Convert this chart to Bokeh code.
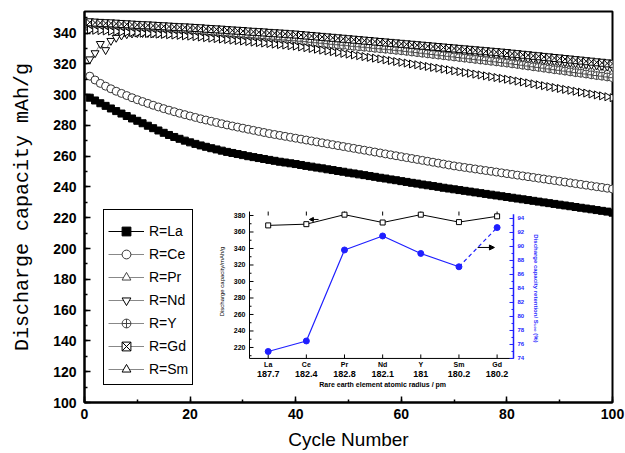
import numpy as np
from bokeh.plotting import figure
from bokeh.models import Range1d, SingleIntervalTicker, Legend, LegendItem, Arrow, NormalHead
from bokeh.core.properties import value
from bokeh.embed import file_html
from bokeh.resources import INLINE

# ---------------- main chart data ----------------
cycles = list(range(1, 101))

cap_La = [298, 296.2, 294.4, 292.7, 291, 289.3, 287.7, 286.1, 284.5, 283,
          281.4, 279.8, 278.2, 276.7, 275.2, 273.8, 272.5, 271.3, 270.1, 269,
          268, 267, 266.1, 265.2, 264.4, 263.6, 262.8, 262.1, 261.4, 260.7,
          260, 259.4, 258.8, 258.2, 257.6, 257, 256.4, 255.9, 255.4, 254.9,
          254.3, 253.7, 253.2, 252.6, 252.1, 251.5, 251, 250.4, 249.9, 249.3,
          248.8, 248.2, 247.7, 247.1, 246.6, 246, 245.5, 244.9, 244.4, 243.8,
          243.3, 242.7, 242.2, 241.6, 241.1, 240.6, 240.1, 239.5, 239, 238.5,
          238, 237.5, 237, 236.5, 236, 235.5, 235, 234.5, 234, 233.5,
          233, 232.5, 232, 231.5, 231, 230.5, 230, 229.5, 229, 228.5,
          228, 227.5, 227, 226.5, 226, 225.5, 225, 224.5, 224, 223.3]

cap_Ce = [312, 309.5, 307.3, 305.5, 303.8, 302.2, 300.8, 299.4, 298, 296.7,
          295.5, 294.3, 293.1, 292, 290.9, 289.9, 288.9, 287.9, 287, 286.1,
          285.2, 284.3, 283.5, 282.7, 281.9, 281.1, 280.3, 279.6, 278.9, 278.2,
          277.5, 276.8, 276.1, 275.4, 274.7, 274.1, 273.5, 272.9, 272.3, 271.7,
          271.1, 270.5, 269.9, 269.3, 268.7, 268.1, 267.5, 266.9, 266.3, 265.7,
          265.1, 264.5, 263.9, 263.3, 262.7, 262.1, 261.5, 260.9, 260.3, 259.7,
          259.1, 258.5, 257.9, 257.3, 256.7, 256.1, 255.5, 254.9, 254.3, 253.7,
          253.2, 252.7, 252.2, 251.7, 251.2, 250.7, 250.2, 249.7, 249.2, 248.7,
          248.2, 247.7, 247.2, 246.7, 246.2, 245.7, 245.2, 244.7, 244.2, 243.7,
          243.2, 242.7, 242.2, 241.7, 241.2, 240.7, 240.2, 239.7, 239.2, 238.7]

cap_Pr = [345, 344.8, 344.6, 344.5, 344.3, 344.1, 343.9, 343.7, 343.5, 343.3,
          343.1, 343, 342.8, 342.6, 342.4, 342.2, 342, 341.8, 341.7, 341.5,
          341.2, 341, 340.7, 340.5, 340.2, 340, 339.7, 339.5, 339.2, 339,
          338.7, 338.5, 338.2, 338, 337.7, 337.5, 337.2, 337, 336.7, 336.5,
          336.2, 335.9, 335.6, 335.3, 335, 334.7, 334.4, 334.1, 333.8, 333.5,
          333.2, 332.9, 332.6, 332.3, 332, 331.7, 331.4, 331.1, 330.8, 330.5,
          330.1, 329.8, 329.4, 329, 328.6, 328.3, 327.9, 327.5, 327.1, 326.8,
          326.4, 326, 325.6, 325.3, 324.9, 324.5, 324.1, 323.8, 323.4, 323,
          322.5, 322.1, 321.6, 321.2, 320.7, 320.3, 319.8, 319.4, 318.9, 318.5,
          318, 317.6, 317.1, 316.7, 316.2, 315.8, 315.3, 314.9, 314.4, 314]

cap_Nd = [323, 327, 333, 329, 335, 337, 338.5, 339.3, 339.8, 340,
          340.1, 340.1, 340, 340, 339.9, 339.9, 339.8, 339.7, 339.6, 339.5,
          339.3, 339.1, 338.9, 338.7, 338.5, 338.3, 338.1, 337.9, 337.7, 337.5,
          337.3, 337.1, 336.9, 336.7, 336.5, 336.3, 336.1, 335.9, 335.7, 335.5,
          335.3, 335.1, 334.8, 334.6, 334.4, 334.1, 333.9, 333.7, 333.4, 333.2,
          333, 332.7, 332.5, 332.3, 332, 331.8, 331.6, 331.4, 331.2, 331,
          330.7, 330.4, 330.1, 329.8, 329.5, 329.2, 328.9, 328.6, 328.3, 328,
          327.7, 327.4, 327.1, 326.8, 326.5, 326.2, 325.9, 325.6, 325.3, 325,
          324.6, 324.3, 323.9, 323.6, 323.2, 322.9, 322.5, 322.2, 321.8, 321.5,
          321.1, 320.8, 320.4, 320.1, 319.7, 319.4, 319, 318.7, 318.3, 318]

cap_Y = [343.5, 343.3, 343.1, 343, 342.8, 342.6, 342.4, 342.2, 342, 341.8,
         341.6, 341.5, 341.3, 341.1, 340.9, 340.7, 340.5, 340.3, 340.2, 340,
         339.7, 339.5, 339.2, 339, 338.7, 338.5, 338.2, 338, 337.7, 337.5,
         337.2, 337, 336.7, 336.5, 336.2, 336, 335.7, 335.5, 335.2, 335,
         334.7, 334.4, 334, 333.7, 333.4, 333.1, 332.7, 332.4, 332.1, 331.8,
         331.4, 331.1, 330.8, 330.5, 330.1, 329.8, 329.5, 329.2, 328.8, 328.5,
         328.1, 327.7, 327.3, 326.9, 326.5, 326.1, 325.7, 325.3, 324.9, 324.5,
         324.1, 323.7, 323.3, 322.9, 322.5, 322.1, 321.7, 321.3, 320.9, 320.5,
         320, 319.6, 319.1, 318.6, 318.1, 317.7, 317.2, 316.7, 316.2, 315.8,
         315.3, 314.8, 314.3, 313.9, 313.4, 312.9, 312.4, 312, 311.5, 311]

cap_Gd = [347, 346.8, 346.6, 346.4, 346.3, 346.1, 345.9, 345.7, 345.5, 345.3,
          345.1, 345, 344.8, 344.6, 344.4, 344.2, 344, 343.8, 343.7, 343.5,
          343.3, 343.1, 342.8, 342.6, 342.4, 342.2, 341.9, 341.7, 341.5, 341.3,
          341, 340.8, 340.6, 340.4, 340.1, 339.9, 339.7, 339.5, 339.2, 339,
          338.7, 338.4, 338.1, 337.8, 337.5, 337.2, 336.9, 336.6, 336.3, 336,
          335.7, 335.4, 335.1, 334.8, 334.5, 334.2, 333.9, 333.6, 333.3, 333,
          332.7, 332.4, 332.1, 331.8, 331.5, 331.2, 330.9, 330.6, 330.3, 330,
          329.7, 329.4, 329.1, 328.8, 328.5, 328.2, 327.9, 327.6, 327.3, 327,
          326.6, 326.3, 325.9, 325.6, 325.2, 324.9, 324.5, 324.2, 323.8, 323.5,
          323.1, 322.8, 322.4, 322.1, 321.7, 321.4, 321, 320.7, 320.3, 320]

cap_Sm = [342, 341.8, 341.6, 341.4, 341.2, 341, 340.7, 340.5, 340.3, 340.1,
          339.9, 339.7, 339.5, 339.3, 339.1, 338.9, 338.7, 338.5, 338.2, 338,
          337.7, 337.4, 337, 336.7, 336.4, 336.1, 335.8, 335.4, 335.1, 334.8,
          334.5, 334.1, 333.8, 333.5, 333.2, 332.8, 332.5, 332.2, 331.8, 331.5,
          331, 330.5, 330, 329.5, 328.9, 328.4, 327.9, 327.4, 326.8, 326.3,
          325.8, 325.3, 324.7, 324.2, 323.7, 323.2, 322.6, 322.1, 321.5, 321,
          320.5, 319.9, 319.4, 318.8, 318.3, 317.7, 317.2, 316.6, 316.1, 315.5,
          315, 314.4, 313.9, 313.3, 312.8, 312.2, 311.7, 311.1, 310.6, 310,
          309.4, 308.8, 308.2, 307.6, 307, 306.4, 305.8, 305.2, 304.6, 304,
          303.4, 302.8, 302.2, 301.6, 301, 300.4, 299.8, 299.2, 298.6, 298]

# ---------------- inset data ----------------
inset_elements = ["La", "Ce", "Pr", "Nd", "Y", "Sm", "Gd"]
inset_radius = ["187.7", "182.4", "182.8", "182.1", "181", "180.2", "180.2"]
inset_capacity = [368, 369.5, 381, 371.5, 381, 372, 379]
inset_retention = [75.0, 76.5, 89.5, 91.5, 89.0, 87.1, 92.7]
inset_cap_ticks = [220, 240, 260, 280, 300, 320, 340, 360, 380]
inset_cap_minor = [210, 230, 250, 270, 290, 310, 330, 350, 370]
inset_ret_ticks = [74, 76, 78, 80, 82, 84, 86, 88, 90, 92, 94]
inset_ret_minor = [75, 77, 79, 81, 83, 85, 87, 89, 91, 93]
inset_pos = list(range(len(inset_elements)))

FONT = value("Liberation Sans")
BLUE = "#1f1fff"

p = figure(width=625, height=453, x_range=Range1d(0, 100), y_range=Range1d(100, 354),
           output_backend="svg", toolbar_location=None,
           min_border_left=84, min_border_right=13, min_border_top=11, min_border_bottom=51)
p.extra_x_ranges = {"ix": Range1d(-4.815, 9.025)}
p.extra_y_ranges = {"iy": Range1d(153.3, 627.3), "ir": Range1d(67.71, 123.57)}

p.grid.visible = False
p.outline_line_color = "black"
p.outline_line_width = 2
p.outline_line_alpha = 1

p.xaxis.ticker = SingleIntervalTicker(interval=20, num_minor_ticks=2)
p.yaxis.ticker = SingleIntervalTicker(interval=20, num_minor_ticks=2)
for ax in (p.xaxis[0], p.yaxis[0]):
    ax.axis_line_width = 2
    ax.major_tick_in = 6
    ax.major_tick_out = 0
    ax.minor_tick_in = 3
    ax.minor_tick_out = 0
    ax.major_tick_line_width = 1.5
    ax.minor_tick_line_width = 1.5
    ax.major_label_text_font = "Liberation Sans"
    ax.major_label_text_font_size = "14px"
    ax.major_label_text_font_style = "bold"
    ax.major_label_text_color = "black"
    ax.axis_label_text_font_style = "normal"
    ax.axis_label_text_color = "black"

p.xaxis.axis_label = "Cycle Number"
p.xaxis.axis_label_text_font = "Liberation Sans"
p.xaxis.axis_label_text_font_size = "19px"
p.xaxis.major_label_standoff = 6
p.xaxis.axis_label_standoff = 7

p.yaxis.axis_label = "Discharge capacity mAh/g"
p.yaxis.axis_label_text_font = "Liberation Mono"
p.yaxis.axis_label_text_font_size = "20px"
p.yaxis.major_label_standoff = 8
p.yaxis.axis_label_standoff = 16

series = [
    ("R=La", cap_La, "square", "black", "black", "black", 7, 0.0),
    ("R=Ce", cap_Ce, "circle", "#333333", "white", "#888888", 8, 0.0),
    ("R=Pr", cap_Pr, "triangle", "#444444", "white", "#888888", 8, 0.0),
    ("R=Nd", cap_Nd, "inverted_triangle", "black", "white", "#888888", 8, 0.0),
    ("R=Y", cap_Y, "circle_cross", "#444444", "white", "#888888", 8, 0.0),
    ("R=Gd", cap_Gd, "square_x", "black", "white", "#888888", 7, 0.0),
    ("R=Sm", cap_Sm, "triangle", "black", "white", "#888888", 8, -np.pi / 2),
]

items = []
for name, vals, marker, mcol, fcol, lcol, size, ang in series:
    rl = p.line(cycles, vals, line_color=lcol, line_width=1)
    rs = p.scatter(cycles, vals, marker=marker, size=size, line_color=mcol,
                   fill_color=fcol, line_width=1, angle=ang)
    items.append(LegendItem(label=name, renderers=[rl, rs]))

legend = Legend(items=items, location=(19, 17), orientation="vertical",
                title=" ", title_text_font_size="6px", title_standoff=0,
                border_line_color="black", border_line_width=1, border_line_alpha=1,
                background_fill_alpha=1, padding=4, spacing=1, margin=0,
                glyph_width=36, glyph_height=22, label_height=22, label_standoff=5,
                label_text_font="Liberation Sans", label_text_font_size="14px",
                label_text_color="black")
p.add_layout(legend)

# ---------------- inset (drawn in extra ranges) ----------------
iL, iR, iB, iT = -0.49, 6.43, 206.7, 384.8
ax_kw = dict(x_range_name="ix", y_range_name="iy")

# axis lines
p.segment(x0=[iL, iL], y0=[iB, iB], x1=[iL, iR], y1=[iT, iB], line_color="black", line_width=1, **ax_kw)
p.segment(x0=[iR], y0=[74], x1=[iR], y1=[94.6], line_color=BLUE, line_width=1.5,
          x_range_name="ix", y_range_name="ir")

# left ticks
p.ray(x=[iL] * len(inset_cap_ticks), y=inset_cap_ticks, length=4, angle=0, length_units="screen",
      line_color="black", line_width=1, **ax_kw)
p.ray(x=[iL] * len(inset_cap_minor), y=inset_cap_minor, length=2, angle=0, length_units="screen",
      line_color="black", line_width=1, **ax_kw)
p.text(x=[iL] * len(inset_cap_ticks), y=inset_cap_ticks, text=[str(t) for t in inset_cap_ticks],
       text_font=FONT, text_font_size="7px", text_font_style="bold", text_align="right",
       text_baseline="middle", x_offset=-4, text_color="black", **ax_kw)
p.text(x=[iL - 0.72], y=[300], text=["Discharge capacity/mAh/g"], angle=np.pi / 2,
       text_font=FONT, text_font_size="6px", text_align="center", text_baseline="middle",
       text_color="black", **ax_kw)

# bottom / top ticks & labels
p.ray(x=inset_pos, y=[iB] * 7, length=4, angle=np.pi / 2, length_units="screen",
      line_color="black", line_width=1, **ax_kw)
p.ray(x=inset_pos, y=[iT] * 7, length=4, angle=-np.pi / 2, length_units="screen",
      line_color="black", line_width=1, **ax_kw)
p.text(x=inset_pos, y=[iB] * 7, text=inset_elements, text_font=FONT, text_font_size="7px",
       text_font_style="bold", text_align="center", text_baseline="middle", y_offset=6,
       text_color="black", **ax_kw)
p.text(x=inset_pos, y=[iB] * 7, text=inset_radius, text_font=FONT, text_font_size="9px",
       text_font_style="bold", text_align="center", text_baseline="middle", y_offset=16,
       text_color="black", **ax_kw)
p.text(x=[3], y=[iB], text=["Rare earth element atomic radius / pm"], text_font=FONT,
       text_font_size="7px", text_font_style="bold", text_align="center", text_baseline="middle",
       y_offset=26, text_color="black", **ax_kw)

# right (blue) ticks
rk = dict(x_range_name="ix", y_range_name="ir")
p.ray(x=[iR] * len(inset_ret_ticks), y=inset_ret_ticks, length=4, angle=np.pi, length_units="screen",
      line_color=BLUE, line_width=1, **rk)
p.ray(x=[iR] * len(inset_ret_minor), y=inset_ret_minor, length=2, angle=np.pi, length_units="screen",
      line_color=BLUE, line_width=1, **rk)
p.text(x=[iR] * len(inset_ret_ticks), y=inset_ret_ticks, text=[str(t) for t in inset_ret_ticks],
       text_font=FONT, text_font_size="6px", text_font_style="bold", text_align="left",
       text_baseline="middle", x_offset=4, text_color=BLUE, **rk)
p.text(x=[iR + 0.6], y=[84], text=["Discharge capacity retention/ S\u2081\u2080\u2080 (%)"],
       angle=-np.pi / 2, text_font=FONT, text_font_size="6px", text_font_style="bold",
       text_align="center", text_baseline="middle", text_color=BLUE, **rk)

# inset series
p.line(inset_pos, inset_capacity, line_color="black", line_width=1, **ax_kw)
p.scatter(inset_pos, inset_capacity, marker="square", size=5, line_color="black",
          fill_color="white", line_width=1, **ax_kw)
p.line(inset_pos[:6], inset_retention[:6], line_color=BLUE, line_width=1.2, **rk)
p.line(inset_pos[5:], inset_retention[5:], line_color=BLUE, line_width=1.2, line_dash="4 3", **rk)
p.scatter(inset_pos, inset_retention, marker="circle", size=6, line_color=BLUE,
          fill_color=BLUE, **rk)

# arrows
p.add_layout(Arrow(end=NormalHead(size=4, fill_color="black", line_color="black"),
                   x_start=1.32, y_start=375.2, x_end=1.08, y_end=375.2,
                   line_color="black", line_width=1, x_range_name="ix", y_range_name="iy"))
p.add_layout(Arrow(end=NormalHead(size=5, fill_color="black", line_color="black"),
                   x_start=5.49, y_start=89.86, x_end=5.93, y_end=89.86,
                   line_color="black", line_width=1, x_range_name="ix", y_range_name="ir"))

open("out.html", "w").write(file_html(p, INLINE))
